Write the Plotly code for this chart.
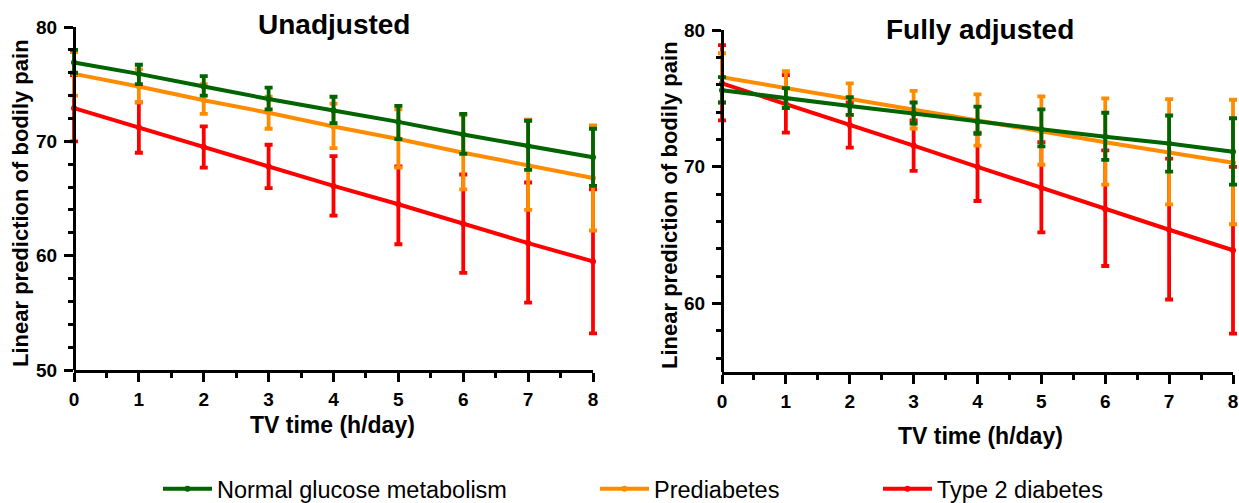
import plotly.graph_objects as go

tv_hours = [0, 1, 2, 3, 4, 5, 6, 7, 8]
group_names = ["Normal glucose metabolism", "Prediabetes", "Type 2 diabetes"]

# Unadjusted model
unadj_normal_mean = [76.9, 75.9, 74.8, 73.7, 72.7, 71.7, 70.6, 69.6, 68.6]
unadj_normal_hi = [78.0, 76.7, 75.7, 74.7, 73.9, 73.1, 72.4, 71.8, 71.1]
unadj_normal_lo = [76.0, 75.0, 74.0, 72.8, 71.6, 70.2, 68.9, 67.5, 66.1]
unadj_pre_mean = [75.9, 74.8, 73.6, 72.5, 71.3, 70.2, 69.0, 67.9, 66.8]
unadj_pre_hi = [77.8, 76.3, 75.0, 73.9, 73.3, 72.8, 72.3, 71.9, 71.4]
unadj_pre_lo = [74.0, 73.4, 72.4, 71.1, 69.4, 67.7, 65.8, 64.0, 62.2]
unadj_t2d_mean = [72.9, 71.2, 69.5, 67.8, 66.1, 64.5, 62.8, 61.1, 59.5]
unadj_t2d_hi = [75.8, 73.4, 71.3, 69.7, 68.7, 67.8, 67.1, 66.4, 65.8]
unadj_t2d_lo = [70.0, 69.0, 67.7, 65.9, 63.5, 61.0, 58.5, 55.9, 53.2]

# Fully adjusted model
adj_normal_mean = [75.6, 75.0, 74.45, 73.9, 73.3, 72.75, 72.2, 71.7, 71.1]
adj_normal_hi = [76.55, 75.75, 75.1, 74.7, 74.4, 74.2, 73.95, 73.75, 73.55]
adj_normal_lo = [74.7, 74.3, 73.8, 73.15, 72.4, 71.5, 70.5, 69.65, 68.7]
adj_pre_mean = [76.55, 75.75, 74.95, 74.2, 73.4, 72.55, 71.8, 71.05, 70.3]
adj_pre_hi = [78.3, 77.0, 76.1, 75.55, 75.3, 75.15, 75.0, 74.95, 74.9]
adj_pre_lo = [74.7, 74.35, 73.8, 72.8, 71.55, 70.15, 68.7, 67.25, 65.8]
adj_t2d_mean = [76.1, 74.6, 73.05, 71.55, 70.0, 68.45, 66.9, 65.4, 63.9]
adj_t2d_hi = [78.9, 76.7, 74.7, 73.4, 72.5, 71.8, 71.2, 70.6, 70.0]
adj_t2d_lo = [73.4, 72.5, 71.4, 69.7, 67.5, 65.2, 62.75, 60.3, 57.8]

colors = ["#006400", "#FF8C00", "#FF0000"]
FONT = "Arial, Liberation Sans, sans-serif"
W, H = 1239, 503


def px_x(p):
    return p / W


def px_y(p):
    return 1 - p / H


fig = go.Figure()

panels = [
    ("x", "y", "x3", [(unadj_normal_mean, unadj_normal_hi, unadj_normal_lo),
                      (unadj_pre_mean, unadj_pre_hi, unadj_pre_lo),
                      (unadj_t2d_mean, unadj_t2d_hi, unadj_t2d_lo)]),
    ("x2", "y2", "x4", [(adj_normal_mean, adj_normal_hi, adj_normal_lo),
                        (adj_pre_mean, adj_pre_hi, adj_pre_lo),
                        (adj_t2d_mean, adj_t2d_hi, adj_t2d_lo)]),
]

legend_ids = ["legend", "legend2", "legend3"]

for pi, (xa, ya, xdisp, groups) in enumerate(panels):
    # empty helper trace so that the visible (unpadded) x-axis is drawn
    fig.add_trace(go.Scatter(x=[tv_hours[0], tv_hours[-1]], y=[None, None],
                             xaxis=xdisp, yaxis=ya, mode="markers",
                             showlegend=False, hoverinfo="skip"))
    for gi in [2, 1, 0]:  # red first, green on top
        mean, hi, lo = groups[gi]
        fig.add_trace(go.Scatter(
            x=tv_hours, y=mean, xaxis=xa, yaxis=ya,
            mode="lines+markers",
            name=group_names[gi],
            legend=legend_ids[gi],
            showlegend=(pi == 0),
            line=dict(color=colors[gi], width=4),
            marker=dict(color=colors[gi], size=6, symbol="circle"),
            error_y=dict(type="data", symmetric=False,
                         array=[h - m for h, m in zip(hi, mean)],
                         arrayminus=[m - l for m, l in zip(mean, lo)],
                         color=colors[gi], thickness=3.8, width=4),
            cliponaxis=False,
        ))

tick_font = dict(family=FONT, size=19, color="black", weight="bold")
line_style = dict(showline=True, linecolor="black", linewidth=3,
                  ticks="outside", ticklen=9, tickwidth=3, tickcolor="black",
                  showgrid=False, zeroline=False, automargin=False,
                  tickfont=tick_font)

# pixel geometry of the visible axes
L0, L8 = 74, 593      # left panel x=0 and x=8
R0, R8 = 722, 1233    # right panel x=0 and x=8
pad = 0.1             # data-axis padding so error-bar caps at the ends are not clipped
uL = (L8 - L0) / 8
uR = (R8 - R0) / 8
r_right_end = 8 + (W - R8) / uR

fig.update_layout(
    width=W, height=H,
    margin=dict(l=0, r=0, t=0, b=0, autoexpand=False),
    paper_bgcolor="white", plot_bgcolor="rgba(0,0,0,0)",
    showlegend=True,
    xaxis=dict(domain=[px_x(L0 - pad * uL), px_x(L8 + pad * uL)], range=[-pad, 8 + pad],
               anchor="y", visible=False, automargin=False, showgrid=False, zeroline=False),
    xaxis2=dict(domain=[px_x(R0 - pad * uR), 1.0], range=[-pad, r_right_end],
                anchor="y2", visible=False, automargin=False, showgrid=False, zeroline=False),
    xaxis3=dict(domain=[px_x(L0), px_x(L8)], range=[0, 8], anchor="y",
                tickvals=tv_hours, ticklabelstandoff=1,
                minor=dict(ticks="outside", ticklen=5, tickwidth=3, tickcolor="black", dtick=0.5),
                **line_style),
    xaxis4=dict(domain=[px_x(R0), px_x(R8)], range=[0, 8], anchor="y2",
                tickvals=tv_hours, ticklabelstandoff=1, ticklabeloverflow="allow",
                minor=dict(ticks="outside", ticklen=5, tickwidth=3, tickcolor="black", dtick=0.5),
                **line_style),
    yaxis=dict(domain=[px_y(370), px_y(27)], range=[50, 80], anchor="free", position=px_x(L0),
               dtick=10, ticklabelstandoff=3,
               minor=dict(ticks="outside", ticklen=5, tickwidth=3, tickcolor="black", dtick=2),
               **line_style),
    yaxis2=dict(domain=[px_y(372), px_y(30)], range=[55, 80], anchor="free", position=px_x(R0),
                tickvals=[60, 70, 80], ticklabelstandoff=3,
                minor=dict(ticks="outside", ticklen=5, tickwidth=3, tickcolor="black", dtick=2, tick0=0),
                **line_style),
)

leg_common = dict(orientation="h", yanchor="middle", xanchor="left",
                  y=px_y(489), bgcolor="rgba(0,0,0,0)", itemwidth=49,
                  font=dict(family=FONT, size=23.5, color="black"))
fig.update_layout(
    legend=dict(x=px_x(158), **leg_common),
    legend2=dict(x=px_x(595), **leg_common),
    legend3=dict(x=px_x(878), **leg_common),
)

annotations = [
    dict(text="Unadjusted", x=px_x(334), y=px_y(25), font=dict(size=28, weight="bold")),
    dict(text="Fully adjusted", x=px_x(980), y=px_y(30), font=dict(size=28, weight="bold")),
    dict(text="TV time (h/day)", x=px_x(333), y=px_y(425), font=dict(size=23, weight="bold")),
    dict(text="TV time (h/day)", x=px_x(980), y=px_y(436), font=dict(size=23, weight="bold")),
    dict(text="Linear prediction of bodily pain", x=px_x(21), y=px_y(203), textangle=-90,
         font=dict(size=22, weight="bold")),
    dict(text="Linear prediction of bodily pain", x=px_x(669), y=px_y(205), textangle=-90,
         font=dict(size=22, weight="bold")),
]
for a in annotations:
    a["font"].update(family=FONT, color="black")
    fig.add_annotation(xref="paper", yref="paper", xanchor="center", yanchor="middle",
                       showarrow=False, **a)

fig.write_html("out.html", config={"displayModeBar": False},
               post_script="document.body.style.margin='0';document.body.style.overflow='hidden';")
